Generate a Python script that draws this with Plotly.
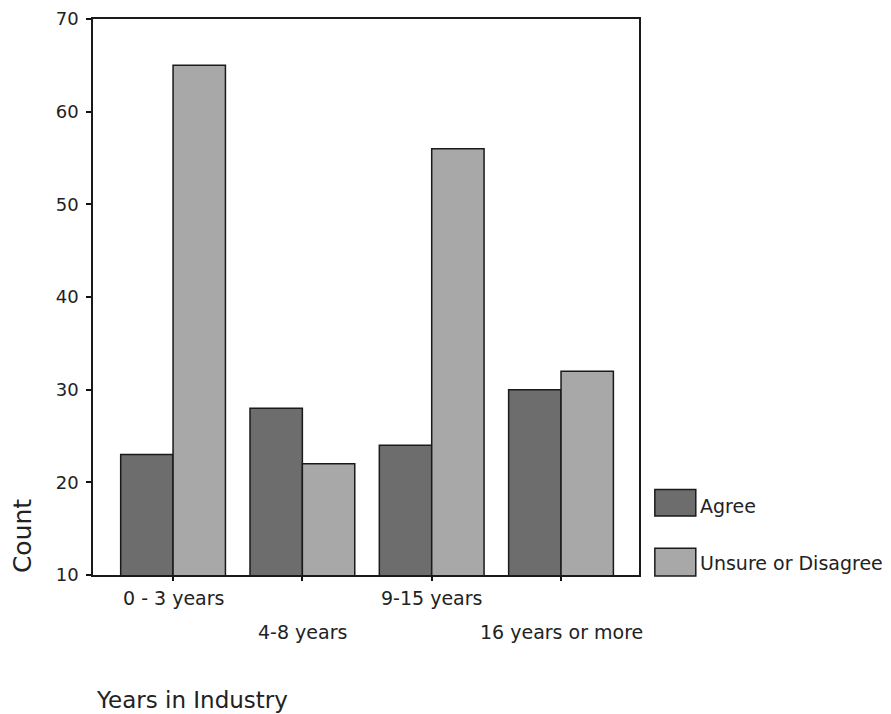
import plotly.graph_objects as go

categories = ["0 - 3 years", "4-8 years", "9-15 years", "16 years or more"]
agree = [23, 28, 24, 30]
unsure = [65, 22, 56, 32]
series_names = ["Agree", "Unsure or Disagree"]
y_ticks = [10, 20, 30, 40, 50, 60, 70]

dark = "#6d6d6d"
light = "#a8a8a8"
font_family = "DejaVu Sans, Verdana, sans-serif"
txt = "#222222"

fig = go.Figure()
fig.add_trace(go.Bar(x=categories, y=agree, name=series_names[0],
                     marker=dict(color=dark, line=dict(color="#1a1a1a", width=1.5))))
fig.add_trace(go.Bar(x=categories, y=unsure, name=series_names[1],
                     marker=dict(color=light, line=dict(color="#1a1a1a", width=1.5))))

# staggered category labels
for i, c in enumerate(categories):
    fig.add_annotation(x=c, xref="x", y=-0.041 if i % 2 == 0 else -0.102, yref="paper",
                       text=c, showarrow=False, yanchor="middle", xanchor="center",
                       font=dict(size=19, family=font_family, color=txt))

# custom legend
legend_y = [(0.106, 0.154), (-0.002, 0.048)]
text_y = [0.125, 0.0215]
colors = [dark, light]
for (y0, y1), ty, col, name in zip(legend_y, text_y, colors, series_names):
    fig.add_shape(type="rect", xref="paper", yref="paper", x0=1.029, x1=1.104, y0=y0, y1=y1,
                  fillcolor=col, line=dict(color="#1a1a1a", width=1.5))
    fig.add_annotation(x=1.108, xref="paper", y=ty, yref="paper", text=name,
                       showarrow=False, xanchor="left", yanchor="middle",
                       font=dict(size=19, family=font_family, color=txt))

fig.add_annotation(x=-0.130, xref="paper", y=0.070, yref="paper", text="Count", textangle=-90,
                   showarrow=False, xanchor="center", yanchor="middle",
                   font=dict(size=25, family=font_family, color=txt))
fig.add_annotation(x=0.002, xref="paper", y=-0.224, yref="paper", text="Years in Industry",
                   showarrow=False, xanchor="left", yanchor="middle",
                   font=dict(size=23, family=font_family, color=txt))

# page body has an 8px margin: canvas is offset by 8px
fig.update_layout(
    width=883, height=706,
    margin=dict(l=85, r=252, t=11, b=139),
    paper_bgcolor="white", plot_bgcolor="white",
    barmode="group", bargap=0.19, bargroupgap=0,
    showlegend=False,
    font=dict(family=font_family, size=18, color=txt),
)
fig.update_xaxes(range=[-0.619, 3.603], automargin=False,
                 showticklabels=False, ticks="outside", ticklen=4, tickwidth=2, tickcolor="#111111",
                 showline=True, linecolor="#1a1a1a", linewidth=1.5, mirror=True, showgrid=False)
fig.update_yaxes(range=[10, 70], tickvals=y_ticks, automargin=False, ticklabeloverflow="allow",
                 ticks="outside", ticklen=5, tickwidth=2,
                 tickcolor="#111111", showline=True, linecolor="#1a1a1a", linewidth=1.5,
                 mirror=True, showgrid=False, zeroline=False, ticklabelstandoff=4,
                 tickfont=dict(size=18, family=font_family, color=txt))

fig.write_html("out.html")
